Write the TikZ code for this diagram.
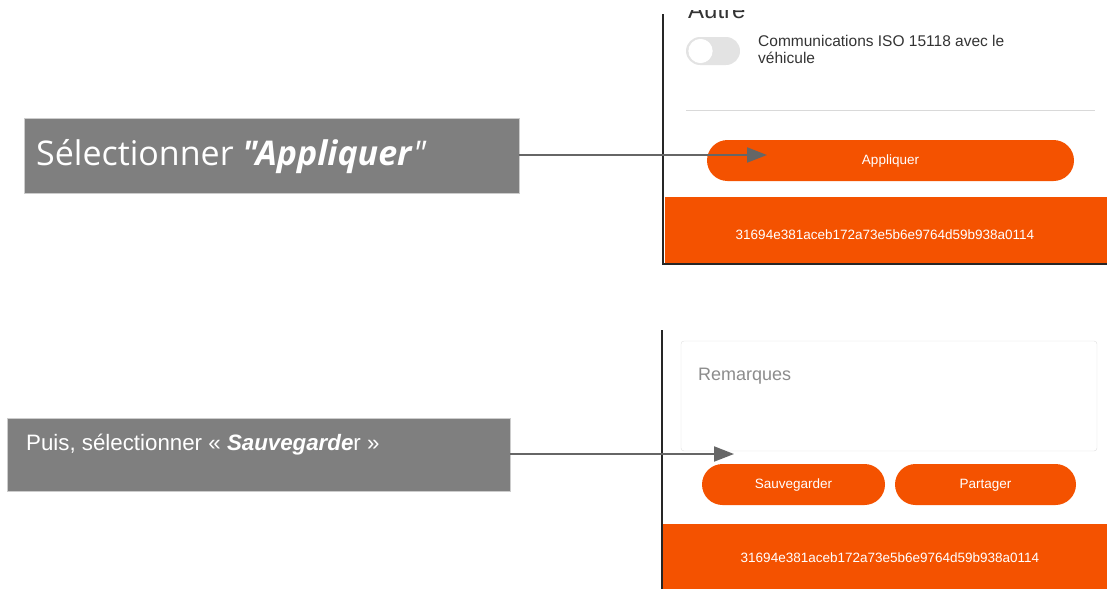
\documentclass[tikz,border=0pt]{standalone}
\usepackage{fontspec}
\setmainfont{Liberation Sans}
\newfontfamily\calloutfont{Open Sans}
\usepackage{tikz}
\usetikzlibrary{arrows.meta}
\definecolor{appOrange}{HTML}{F45200}
\definecolor{boxGray}{HTML}{7F7F7F}
\definecolor{arrowGray}{HTML}{666666}

\begin{document}
\begin{tikzpicture}[x=1pt,y=-1pt,
  callout/.style={draw=gray!40,fill=boxGray,anchor=north west,inner sep=0pt},
  pointer/.style={draw=arrowGray,line width=2pt,-{Triangle[length=20pt,width=15pt]}},
  pill/.style={fill=appOrange,rounded corners=20.5pt},
  footer/.style={fill=appOrange},
  btntext/.style={text=white,font=\fontsize{13.5}{16}\selectfont},
  frame/.style={black!85,line width=1.6pt}]
\useasboundingbox (0,0) rectangle (1107,589);

% Top screenshot
\begin{scope}
\clip (663,10) rectangle (1107,265);
\node[anchor=base west,inner sep=0pt,font=\fontsize{24}{28}\selectfont,text=black!80] (autre) at (688,18) {Autre};
\end{scope}
\draw[fill=gray!22,draw=none,rounded corners=14pt] (686,37) rectangle (740,65);
\draw[fill=white,draw=gray!25] (700.5,51) circle (12.5);
\node[anchor=north west,align=left,inner sep=0pt,font=\fontsize{15.5}{17}\selectfont,text=black!80] (comm) at (758,35) {Communications ISO 15118 avec le\\véhicule};
\draw[gray!30,line width=1pt] (686,110) -- (1095,110);
\path[pill] (707,140) rectangle (1074,181);
\node[btntext] (appliquer) at (890.5,161) {Appliquer};
\path[footer] (665,197) rectangle (1107,263);
\node[btntext] (hashA) at (885,235) {31694e381aceb172a73e5b6e9764d59b938a0114};
\draw[frame] (663,14) -- (663,264) -- (1107,264);

% Bottom screenshot
\draw[draw=gray!25,fill=white,rounded corners=3pt] (681,341) rectangle (1097,451);
\node[anchor=base west,inner sep=0pt,text=gray!90,font=\fontsize{18}{20}\selectfont] (remarques) at (698,380) {Remarques};
\path[pill] (702,464) rectangle (885,505);
\path[pill] (895,464) rectangle (1076,505);
\node[btntext] (sauve) at (793.5,485.5) {Sauvegarder};
\node[btntext] (partager) at (985.5,485.5) {Partager};
\path[footer] (663,524) rectangle (1107,589);
\node[btntext] (hashB) at (890,558) {31694e381aceb172a73e5b6e9764d59b938a0114};
\draw[frame] (662,330) -- (662,589);

% Callouts
\node[callout,minimum width=495pt,minimum height=75pt] (selApp) at (24,118) {};
\node[anchor=base west,text=white,inner sep=0pt,font=\calloutfont\fontsize{34}{38}\selectfont] (selAppText) at (36,165) {Sélectionner \textbf{\textit{"Appliquer}}\textit{"}};
\node[callout,minimum width=503pt,minimum height=73pt] (selSave) at (7,418) {};
\node[anchor=base west,text=white,inner sep=0pt,font=\fontsize{22.3}{26}\selectfont] (selSaveText) at (26,450) {Puis, sélectionner « \textbf{\textit{Sauvegarde}}r »};

% Pointers
\coordinate (appTip) at (767,155);
\coordinate (saveTip) at (734,454);
\draw[pointer] (selApp.east |- appTip) -- (appTip);
\draw[pointer] (selSave.east |- saveTip) -- (saveTip);

\end{tikzpicture}
\end{document}
